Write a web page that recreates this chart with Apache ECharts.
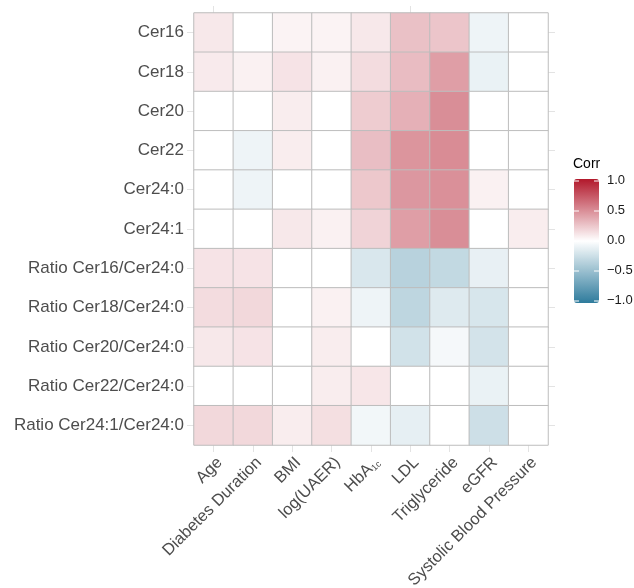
<!DOCTYPE html>
<html lang="en">
<head>
  <meta charset="UTF-8">
  <script src="https://cdn.jsdelivr.net/npm/echarts@6/dist/echarts.min.js"></script>
  <style>
    body { margin: 0; background: #fff; }
    #container { width: 634px; height: 588px; }
  </style>
</head>
<body>
  <div id="container"></div>
  <script>
    // variables on x, ceramides on y
    var xCats = ['Age', 'Diabetes Duration', 'BMI', 'log(UAER)', 'HbA1c', 'LDL', 'Triglyceride', 'eGFR', 'Systolic Blood Pressure'];
    var yCats = ['Cer16', 'Cer18', 'Cer20', 'Cer22', 'Cer24:0', 'Cer24:1',
      'Ratio Cer16/Cer24:0', 'Ratio Cer18/Cer24:0', 'Ratio Cer20/Cer24:0', 'Ratio Cer22/Cer24:0', 'Ratio Cer24:1/Cer24:0'];
    // one row per ceramide, values in xCats order
    var corr = [
      [0.10, 0, 0.05, 0.05, 0.10, 0.27, 0.25, -0.08, 0],
      [0.09, 0.06, 0.12, 0.06, 0.15, 0.29, 0.42, -0.10, 0],
      [0, 0, 0.08, 0, 0.22, 0.34, 0.49, 0, 0],
      [0, -0.08, 0.08, 0, 0.28, 0.46, 0.50, 0, 0],
      [0, -0.08, 0, 0, 0.24, 0.45, 0.48, 0.06, 0],
      [0, 0, 0.10, 0.06, 0.19, 0.42, 0.49, 0, 0.08],
      [0.12, 0.12, 0, 0, -0.18, -0.34, -0.29, -0.11, 0],
      [0.15, 0.17, 0, 0.06, -0.08, -0.31, -0.16, -0.19, 0],
      [0.10, 0.12, 0, 0.08, 0, -0.22, -0.05, -0.21, 0],
      [0, 0, 0, 0.08, 0.11, 0, 0, -0.10, 0],
      [0.17, 0.17, 0.08, 0.14, -0.06, -0.12, 0, -0.24, 0]
    ];
    var legendTicks = [1.0, 0.5, 0.0, -0.5, -1.0];

    var cells = [];
    for (var i = 0; i < yCats.length; i++) {
      for (var j = 0; j < xCats.length; j++) {
        cells.push([j, i, corr[i][j]]);
      }
    }

    var myChart = echarts.init(document.getElementById('container'));
    var font = 'Liberation Sans, Arial, sans-serif';

    // legend bar placement
    var barTop = 179, barH = 124, barLeft = 574, barW = 25;
    var graphics = [{
      type: 'text', left: 573, top: 157,
      style: { text: 'Corr', fill: '#000', font: '14px ' + font }
    }];
    legendTicks.forEach(function (v) {
      var y = barTop + 2 + (1 - v) / 2 * (barH - 4);
      graphics.push({
        type: 'text', left: 607, top: y - 7,
        style: { text: v.toFixed(1).replace('-', '\u2212'), fill: '#1a1a1a', font: '13px ' + font }
      });
      graphics.push({ type: 'line', shape: { x1: barLeft, y1: y, x2: barLeft + 5, y2: y }, style: { stroke: '#fff', lineWidth: 1 }, z: 100 });
      graphics.push({ type: 'line', shape: { x1: barLeft + barW - 5, y1: y, x2: barLeft + barW, y2: y }, style: { stroke: '#fff', lineWidth: 1 }, z: 100 });
    });

    var tickStyle = { show: true, alignWithLabel: true, length: 7, lineStyle: { color: '#e3e3e3' } };

    var option = {
      animation: false,
      textStyle: { fontFamily: font },
      grid: { left: 194, top: 13, width: 354, height: 432, outerBoundsMode: 'none', containLabel: false },
      xAxis: [{
        type: 'category', data: xCats, position: 'bottom',
        axisLine: { show: false }, axisTick: tickStyle, splitLine: { show: false },
        axisLabel: {
          rotate: 45, fontSize: 16.5, color: '#4d4d4d', margin: 9, interval: 0,
          verticalAlign: 'top',
          formatter: function (v) { return v === 'HbA1c' ? 'HbA{sub|1c}' : v; },
          rich: { sub: { fontSize: 9, color: '#4d4d4d', verticalAlign: 'bottom', padding: [7, 0, 0, 0] } }
        }
      }, {
        type: 'category', data: xCats, position: 'top',
        axisLine: { show: false }, axisTick: tickStyle, axisLabel: { show: false }
      }],
      yAxis: [{
        type: 'category', data: yCats, inverse: true, position: 'left',
        axisLine: { show: false }, axisTick: tickStyle, splitLine: { show: false },
        axisLabel: { fontSize: 17, color: '#4d4d4d', margin: 10, interval: 0 }
      }, {
        type: 'category', data: yCats, inverse: true, position: 'right',
        axisLine: { show: false }, axisTick: tickStyle, axisLabel: { show: false }
      }],
      visualMap: {
        type: 'continuous', min: -1, max: 1, calculable: false,
        orient: 'vertical', left: barLeft, top: barTop, padding: 0,
        itemWidth: barW, itemHeight: barH, text: null, showLabel: false,
        inRange: { color: ['#2E7B9C', '#FFFFFF', '#B2182B'] }
      },
      graphic: graphics,
      series: [{
        type: 'heatmap',
        data: cells,
        itemStyle: { borderColor: '#bdbdbd', borderWidth: 1 },
        emphasis: { disabled: true }
      }]
    };

    myChart.setOption(option);
  </script>
</body>
</html>
